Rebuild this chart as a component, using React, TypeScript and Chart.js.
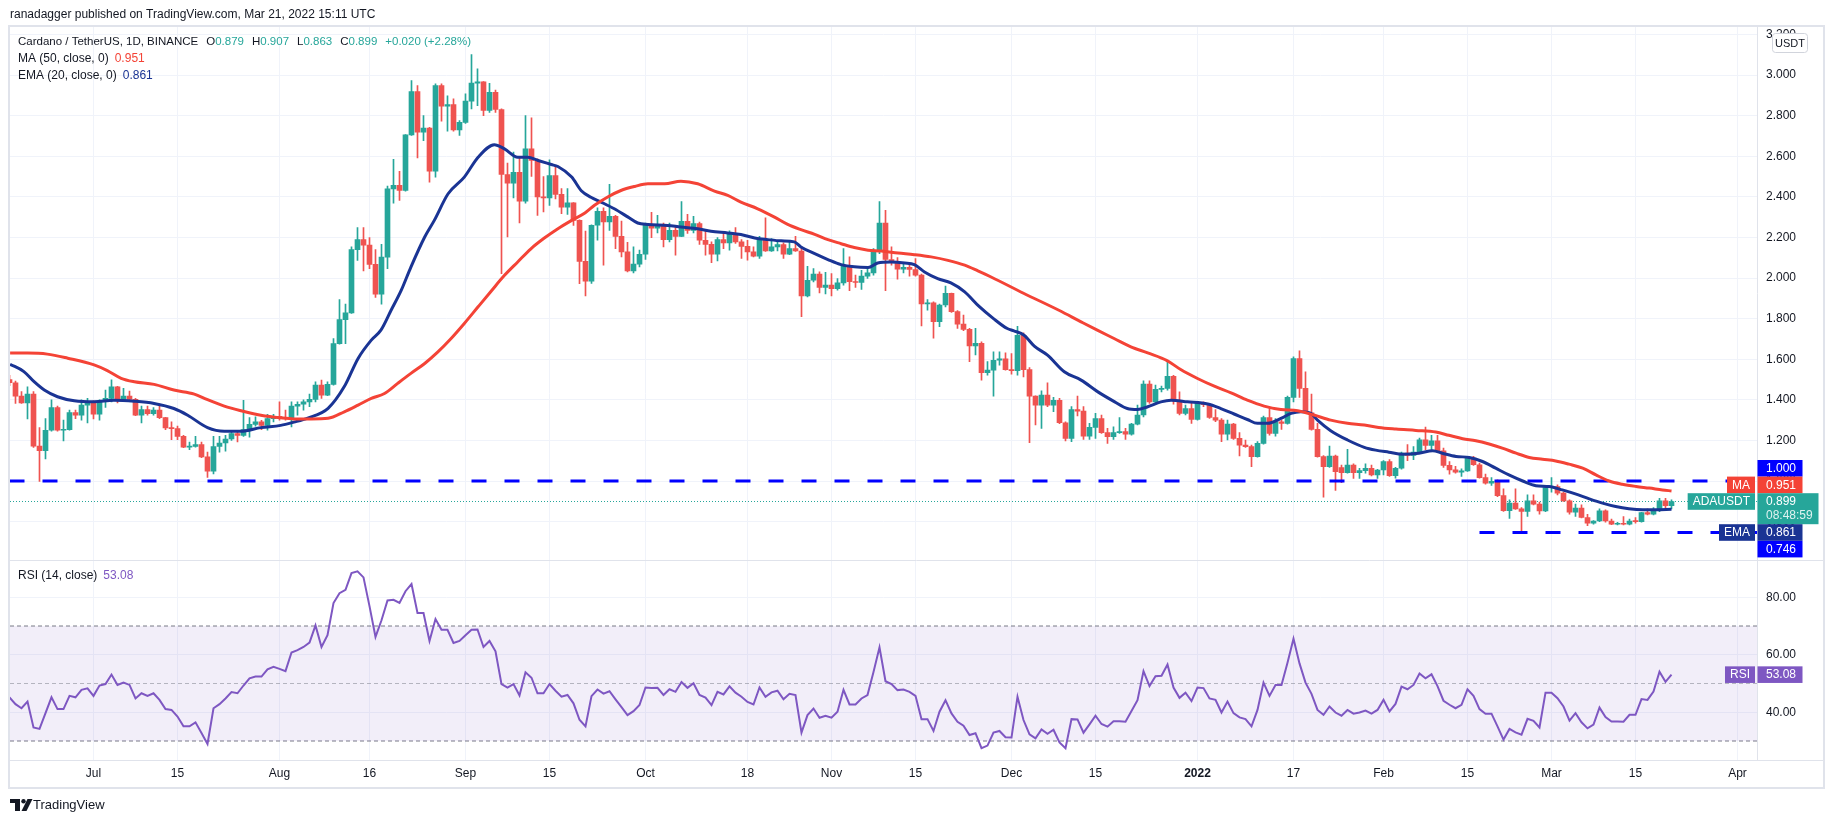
import React, { useEffect, useRef } from "react";
import { Chart, registerables } from "chart.js";

Chart.register(...registerables);

// ---------------- DATA ----------------
// Day index: 0 = 2021-07-01. First candle = 2021-06-17 (day -14), last = 2022-03-21 (day 263).
const FIRST_DAY = -14;

const opens = [
  1.500, 1.484, 1.418, 1.385, 1.428, 1.172, 1.150, 1.250, 1.362, 1.250,
  1.253, 1.337, 1.324, 1.374, 1.393, 1.329, 1.393, 1.407, 1.464, 1.398,
  1.418, 1.402, 1.324, 1.352, 1.332, 1.349, 1.312, 1.262, 1.258, 1.220,
  1.167, 1.170, 1.180, 1.119, 1.048, 1.170, 1.187, 1.207, 1.233, 1.225,
  1.253, 1.279, 1.291, 1.274, 1.307, 1.319, 1.312, 1.307, 1.369, 1.378,
  1.390, 1.402, 1.472, 1.423, 1.476, 1.677, 1.795, 1.828, 2.140, 2.189,
  2.162, 2.067, 1.920, 2.103, 2.439, 2.456, 2.431, 2.705, 2.918, 2.718,
  2.739, 2.526, 2.948, 2.846, 2.854, 2.730, 2.767, 2.871, 2.960, 2.966,
  2.825, 2.915, 2.830, 2.510, 2.467, 2.520, 2.379, 2.636, 2.579, 2.400,
  2.395, 2.505, 2.412, 2.349, 2.370, 2.284, 2.082, 1.985, 2.260, 2.328,
  2.276, 2.304, 2.205, 2.129, 2.035, 2.068, 2.117, 2.260, 2.245, 2.255,
  2.189, 2.235, 2.205, 2.279, 2.235, 2.268, 2.186, 2.166, 2.117, 2.189,
  2.173, 2.219, 2.178, 2.156, 2.129, 2.107, 2.189, 2.133, 2.153, 2.165,
  2.117, 2.145, 2.133, 1.912, 1.989, 2.019, 1.953, 1.965, 1.948, 1.976,
  2.063, 1.982, 1.978, 2.009, 2.025, 2.133, 2.271, 2.091, 2.079, 2.043,
  2.052, 2.042, 2.014, 1.872, 1.878, 1.785, 1.867, 1.924, 1.834, 1.773,
  1.747, 1.665, 1.678, 1.534, 1.546, 1.595, 1.602, 1.549, 1.544, 1.718,
  1.549, 1.418, 1.374, 1.423, 1.374, 1.398, 1.287, 1.210, 1.352, 1.344,
  1.221, 1.264, 1.308, 1.238, 1.218, 1.238, 1.243, 1.231, 1.280, 1.325,
  1.477, 1.390, 1.451, 1.456, 1.516, 1.398, 1.333, 1.357, 1.303, 1.385,
  1.376, 1.313, 1.300, 1.231, 1.280, 1.210, 1.177, 1.169, 1.120, 1.185,
  1.313, 1.235, 1.292, 1.284, 1.412, 1.603, 1.456, 1.336, 1.254, 1.120,
  1.071, 1.123, 1.066, 1.041, 1.079, 1.041, 1.051, 1.062, 1.030, 1.054,
  1.096, 1.026, 1.063, 1.137, 1.126, 1.142, 1.203, 1.175, 1.198, 1.149,
  1.077, 1.055, 1.044, 1.050, 1.113, 1.080, 1.017, 0.989, 0.998, 0.928,
  0.854, 0.891, 0.863, 0.850, 0.902, 0.886, 0.853, 0.968, 0.973, 0.940,
  0.902, 0.846, 0.866, 0.820, 0.792, 0.803, 0.853, 0.803, 0.787, 0.790,
  0.787, 0.803, 0.800, 0.844, 0.836, 0.858, 0.902, 0.879,
];

const highs = [
  1.520, 1.492, 1.441, 1.464, 1.440, 1.263, 1.307, 1.400, 1.369, 1.300,
  1.349, 1.349, 1.400, 1.407, 1.395, 1.400, 1.448, 1.498, 1.466, 1.456,
  1.443, 1.407, 1.369, 1.369, 1.362, 1.374, 1.314, 1.291, 1.270, 1.225,
  1.192, 1.220, 1.192, 1.142, 1.220, 1.220, 1.225, 1.250, 1.240, 1.398,
  1.312, 1.316, 1.299, 1.329, 1.329, 1.390, 1.349, 1.390, 1.390, 1.400,
  1.428, 1.489, 1.497, 1.489, 1.702, 1.894, 1.871, 2.153, 2.248, 2.248,
  2.199, 2.140, 2.166, 2.453, 2.584, 2.526, 2.707, 2.972, 2.948, 2.800,
  2.742, 2.956, 2.956, 2.898, 2.882, 2.775, 2.907, 3.100, 3.030, 2.968,
  2.959, 2.926, 2.833, 2.566, 2.620, 2.598, 2.800, 2.789, 2.587, 2.500,
  2.582, 2.549, 2.440, 2.440, 2.372, 2.286, 2.231, 2.262, 2.346, 2.346,
  2.461, 2.309, 2.281, 2.176, 2.153, 2.137, 2.271, 2.323, 2.309, 2.271,
  2.271, 2.255, 2.377, 2.314, 2.304, 2.276, 2.235, 2.178, 2.199, 2.227,
  2.232, 2.248, 2.189, 2.186, 2.153, 2.205, 2.297, 2.194, 2.186, 2.173,
  2.183, 2.205, 2.153, 2.058, 2.047, 2.030, 2.028, 2.022, 1.997, 2.145,
  2.104, 2.014, 2.038, 2.047, 2.145, 2.377, 2.333, 2.153, 2.101, 2.074,
  2.071, 2.096, 2.019, 1.894, 1.883, 1.872, 1.960, 1.926, 1.839, 1.817,
  1.752, 1.752, 1.685, 1.588, 1.636, 1.636, 1.631, 1.628, 1.762, 1.730,
  1.559, 1.420, 1.444, 1.484, 1.412, 1.407, 1.292, 1.366, 1.418, 1.366,
  1.284, 1.333, 1.325, 1.259, 1.267, 1.313, 1.259, 1.284, 1.374, 1.494,
  1.494, 1.472, 1.467, 1.595, 1.520, 1.439, 1.374, 1.385, 1.390, 1.390,
  1.382, 1.352, 1.308, 1.300, 1.284, 1.238, 1.202, 1.177, 1.194, 1.320,
  1.357, 1.308, 1.300, 1.418, 1.612, 1.641, 1.538, 1.428, 1.284, 1.125,
  1.172, 1.128, 1.079, 1.156, 1.084, 1.062, 1.084, 1.079, 1.057, 1.101,
  1.105, 1.067, 1.142, 1.179, 1.170, 1.212, 1.266, 1.225, 1.225, 1.162,
  1.096, 1.072, 1.060, 1.121, 1.121, 1.088, 1.034, 1.017, 1.006, 0.961,
  0.907, 0.961, 0.869, 0.932, 0.932, 0.896, 0.973, 1.017, 0.981, 0.945,
  0.907, 0.886, 0.882, 0.836, 0.805, 0.863, 0.858, 0.813, 0.797, 0.825,
  0.813, 0.820, 0.846, 0.863, 0.869, 0.915, 0.915, 0.907,
];

const lows = [
  1.470, 1.382, 1.382, 1.306, 1.165, 0.998, 1.109, 1.246, 1.246, 1.197,
  1.250, 1.307, 1.300, 1.286, 1.306, 1.300, 1.362, 1.390, 1.385, 1.395,
  1.398, 1.322, 1.286, 1.324, 1.324, 1.307, 1.253, 1.203, 1.203, 1.164,
  1.154, 1.167, 1.115, 1.018, 1.035, 1.142, 1.147, 1.200, 1.192, 1.220,
  1.216, 1.270, 1.253, 1.250, 1.291, 1.300, 1.300, 1.266, 1.324, 1.349,
  1.366, 1.390, 1.407, 1.420, 1.472, 1.674, 1.677, 1.825, 2.087, 2.035,
  2.046, 1.904, 1.871, 2.046, 2.369, 2.382, 2.428, 2.702, 2.592, 2.677,
  2.472, 2.497, 2.772, 2.723, 2.723, 2.702, 2.762, 2.833, 2.849, 2.800,
  2.816, 2.816, 2.021, 2.202, 2.395, 2.271, 2.369, 2.500, 2.308, 2.325,
  2.357, 2.390, 2.317, 2.313, 2.259, 1.972, 1.912, 1.973, 2.186, 2.063,
  2.235, 2.145, 2.104, 2.030, 2.025, 2.055, 2.091, 2.199, 2.222, 2.153,
  2.178, 2.112, 2.203, 2.219, 2.222, 2.166, 2.112, 2.075, 2.084, 2.145,
  2.137, 2.170, 2.096, 2.088, 2.104, 2.096, 2.131, 2.131, 2.133, 2.096,
  2.115, 2.131, 1.809, 1.907, 1.981, 1.927, 1.921, 1.912, 1.940, 1.965,
  1.937, 1.953, 1.944, 1.998, 2.014, 2.120, 1.937, 2.063, 1.994, 2.025,
  2.009, 2.009, 1.764, 1.842, 1.703, 1.760, 1.858, 1.830, 1.752, 1.741,
  1.588, 1.621, 1.497, 1.521, 1.418, 1.571, 1.546, 1.526, 1.521, 1.513,
  1.189, 1.276, 1.259, 1.366, 1.341, 1.283, 1.198, 1.194, 1.320, 1.205,
  1.205, 1.210, 1.235, 1.185, 1.205, 1.235, 1.205, 1.226, 1.276, 1.316,
  1.382, 1.385, 1.439, 1.448, 1.379, 1.325, 1.325, 1.284, 1.300, 1.366,
  1.308, 1.292, 1.194, 1.202, 1.205, 1.123, 1.166, 1.071, 1.117, 1.182,
  1.226, 1.221, 1.254, 1.280, 1.390, 1.412, 1.333, 1.251, 1.117, 0.920,
  1.067, 0.953, 0.992, 1.038, 1.013, 1.013, 1.038, 1.025, 1.013, 1.030,
  1.022, 1.014, 1.058, 1.100, 1.105, 1.138, 1.154, 1.154, 1.146, 1.067,
  1.034, 1.039, 1.022, 1.047, 1.077, 1.014, 0.984, 0.978, 0.923, 0.850,
  0.816, 0.860, 0.751, 0.825, 0.882, 0.836, 0.849, 0.945, 0.932, 0.899,
  0.836, 0.825, 0.818, 0.780, 0.787, 0.800, 0.797, 0.785, 0.784, 0.784,
  0.784, 0.792, 0.797, 0.833, 0.833, 0.849, 0.858, 0.863,
];

const closes = [
  1.484, 1.418, 1.385, 1.428, 1.172, 1.150, 1.250, 1.362, 1.250, 1.253,
  1.337, 1.324, 1.374, 1.393, 1.329, 1.393, 1.407, 1.464, 1.398, 1.418,
  1.402, 1.324, 1.352, 1.332, 1.349, 1.312, 1.262, 1.258, 1.220, 1.167,
  1.170, 1.180, 1.119, 1.048, 1.170, 1.187, 1.207, 1.233, 1.225, 1.253,
  1.279, 1.291, 1.274, 1.307, 1.319, 1.312, 1.307, 1.369, 1.378, 1.390,
  1.402, 1.472, 1.423, 1.476, 1.677, 1.795, 1.828, 2.140, 2.189, 2.162,
  2.067, 1.920, 2.103, 2.439, 2.456, 2.431, 2.705, 2.918, 2.718, 2.739,
  2.526, 2.948, 2.846, 2.854, 2.730, 2.767, 2.871, 2.960, 2.966, 2.825,
  2.915, 2.830, 2.510, 2.467, 2.520, 2.379, 2.636, 2.579, 2.400, 2.395,
  2.505, 2.412, 2.349, 2.370, 2.284, 2.082, 1.985, 2.260, 2.328, 2.276,
  2.304, 2.205, 2.129, 2.035, 2.068, 2.117, 2.260, 2.245, 2.255, 2.189,
  2.235, 2.205, 2.279, 2.235, 2.268, 2.186, 2.166, 2.117, 2.189, 2.173,
  2.219, 2.178, 2.156, 2.129, 2.107, 2.189, 2.133, 2.153, 2.165, 2.117,
  2.145, 2.133, 1.912, 1.989, 2.019, 1.953, 1.965, 1.948, 1.976, 2.063,
  1.982, 1.978, 2.009, 2.025, 2.133, 2.271, 2.091, 2.079, 2.043, 2.052,
  2.042, 2.014, 1.872, 1.878, 1.785, 1.867, 1.924, 1.834, 1.773, 1.747,
  1.665, 1.678, 1.534, 1.546, 1.595, 1.602, 1.549, 1.544, 1.718, 1.549,
  1.418, 1.374, 1.423, 1.374, 1.398, 1.287, 1.210, 1.352, 1.344, 1.221,
  1.264, 1.308, 1.238, 1.218, 1.238, 1.243, 1.231, 1.280, 1.325, 1.477,
  1.390, 1.451, 1.456, 1.516, 1.398, 1.333, 1.357, 1.303, 1.385, 1.376,
  1.313, 1.300, 1.231, 1.280, 1.210, 1.177, 1.169, 1.120, 1.185, 1.313,
  1.235, 1.292, 1.284, 1.412, 1.603, 1.456, 1.336, 1.254, 1.120, 1.071,
  1.123, 1.046, 1.041, 1.079, 1.041, 1.051, 1.062, 1.030, 1.054, 1.096,
  1.026, 1.063, 1.137, 1.126, 1.142, 1.203, 1.175, 1.198, 1.149, 1.077,
  1.055, 1.044, 1.050, 1.113, 1.080, 1.017, 0.989, 0.998, 0.928, 0.854,
  0.891, 0.863, 0.850, 0.902, 0.886, 0.853, 0.968, 0.973, 0.940, 0.902,
  0.846, 0.866, 0.820, 0.792, 0.803, 0.853, 0.803, 0.787, 0.790, 0.787,
  0.803, 0.800, 0.844, 0.836, 0.858, 0.902, 0.879, 0.899,
];

const rsiValues = [
  45.2, 42.8, 41.4, 43.7, 34.7, 34.2, 39.7, 45.2, 41.1, 41.1,
  45.7, 45.2, 47.8, 48.3, 45.7, 49.3, 49.8, 53.1, 49.5, 50.3,
  49.5, 44.8, 46.6, 45.7, 46.6, 44.3, 41.1, 40.8, 38.5, 35.1,
  35.1, 36.5, 32.8, 29.0, 41.4, 42.8, 44.8, 47.0, 46.6, 49.3,
  51.8, 52.4, 52.4, 54.9, 55.8, 55.1, 54.3, 60.8, 61.6, 62.7,
  64.2, 70.2, 62.7, 66.8, 78.0, 81.4, 82.6, 88.4, 89.0, 86.9,
  76.9, 66.2, 72.0, 78.9, 79.1, 78.0, 82.1, 84.6, 74.5, 74.5,
  64.8, 72.4, 68.7, 68.7, 64.1, 64.8, 66.8, 68.7, 68.8, 62.7,
  64.8, 61.2, 49.8, 48.6, 49.8, 45.8, 53.9, 52.0, 46.6, 46.6,
  49.8, 47.5, 45.4, 46.0, 43.1, 37.4, 35.1, 45.6, 47.9, 46.5,
  47.3, 44.5, 41.8, 39.0, 40.4, 42.5, 48.6, 48.4, 48.5, 46.0,
  48.0, 47.1, 50.5, 48.5, 50.1, 46.0, 45.1, 42.5, 47.1, 46.2,
  49.0, 46.8, 45.4, 43.6, 42.7, 48.6, 45.4, 46.9, 47.5, 44.5,
  46.4, 46.0, 32.9, 39.0, 41.3, 38.1, 38.8, 38.1, 40.2, 47.8,
  42.7, 42.7, 44.8, 46.0, 54.0, 62.6, 50.8, 49.8, 47.7, 47.9,
  47.1, 45.7, 37.6, 37.6, 33.5, 40.2, 44.2, 39.6, 36.7, 35.3,
  32.1, 32.7, 27.5, 28.4, 32.9, 33.5, 31.3, 31.2, 45.4, 37.3,
  32.3, 30.9, 34.0, 32.5, 33.9, 29.5, 27.5, 37.6, 37.5, 32.9,
  35.8, 38.8, 35.9, 35.0, 36.9, 36.9, 36.7, 40.4, 44.2, 54.3,
  49.1, 52.5, 52.7, 56.6, 48.6, 45.0, 46.8, 43.9, 48.6, 48.4,
  44.8, 44.3, 39.9, 43.7, 39.7, 38.2, 37.6, 35.1, 40.8, 50.3,
  45.7, 49.5, 49.5, 57.2, 65.6, 57.0, 50.3, 46.4, 40.8, 39.1,
  42.0, 39.9, 38.8, 40.8, 39.5, 39.9, 40.6, 39.5, 40.8, 44.3,
  40.3, 42.9, 48.9, 48.0, 49.5, 53.5, 51.8, 53.2, 49.1, 44.0,
  42.6, 41.4, 42.6, 48.0, 45.7, 41.1, 39.5, 39.5, 35.1, 30.5,
  34.2, 33.0, 32.2, 37.7, 37.0, 34.7, 46.8, 46.8, 44.9, 42.0,
  37.1, 39.7, 36.5, 34.4, 35.7, 41.6, 38.3, 36.8, 36.8, 36.7,
  39.1, 39.1, 44.6, 44.3, 47.2, 54.1, 50.6, 53.08,
];

// MA (50) readings: day index / value
const maDays = [
  -13.9, -11, -7.7, -4.3, 0.1, 2.3, 4.6, 6.8, 10.1, 13.4, 16.8, 18.9, 21.8, 24.6, 27.9, 31.2, 33.4, 36.3, 39.1,
  41.8, 44.1, 46.3, 48.5, 50.7, 52.9, 55.2, 57.4, 59.6, 61.8, 64.1, 66.3, 68.5, 70.7, 72.9, 75.2, 77.4, 79.7,
  81.9, 83.5, 85.7, 87.9, 90.2, 92.4, 95.2, 97.9, 100.7, 103.5, 105.7, 107.9, 110.7, 113.5, 115.7, 117.9, 120.2,
  122.4, 124.6, 126.8, 129.1, 131.3, 134.1, 136.8, 139.6, 142.4, 145.2, 147.4, 149.6, 155, 160.9, 164.6, 167.3,
  170.1, 172.9, 175.7, 179, 181.2, 184, 186.8, 189.6, 192.3, 195.1, 197.9, 200.7, 203.4, 206.2, 209, 211.8,
  214.2, 217.1, 220.4, 223.7, 225.9, 228.2, 230.4, 232.6, 234.8, 237.1, 239.3, 241.5, 243.7, 245.9, 248.2,
  250.4, 252.6, 254.8, 257.1, 259.3, 261.5, 263,
];
const maValues = [
  1.63, 1.63, 1.625, 1.605, 1.572, 1.544, 1.506, 1.489, 1.476, 1.448, 1.428, 1.402, 1.369, 1.346, 1.324, 1.311, 1.306, 1.306, 1.309,
  1.341, 1.374, 1.407, 1.431, 1.481, 1.53, 1.579, 1.636, 1.702, 1.776, 1.858, 1.936, 2.013, 2.079, 2.144, 2.198, 2.243, 2.284,
  2.32, 2.358, 2.399, 2.431, 2.451, 2.464, 2.464, 2.477, 2.464, 2.428, 2.407, 2.374, 2.341, 2.3, 2.264, 2.238, 2.215,
  2.189, 2.169, 2.15, 2.137, 2.133, 2.123, 2.115, 2.104, 2.087, 2.063, 2.035, 2.005, 1.925, 1.841, 1.784, 1.743,
  1.702, 1.661, 1.631, 1.592, 1.549, 1.505, 1.467, 1.434, 1.398, 1.369, 1.352, 1.346, 1.325, 1.3, 1.284, 1.276,
  1.264, 1.256, 1.249, 1.241, 1.225, 1.208, 1.198, 1.182, 1.162, 1.137, 1.116, 1.107, 1.099, 1.083, 1.063,
  1.03, 1.0, 0.984, 0.973, 0.965, 0.956, 0.951,
];

// EMA (20) readings: day index / value
const emaDays = [
  -13.9, -11.6, -9.9, -8.2, -6, -3.2, 0.1, 3.4, 6.8, 10.1, 13.4, 15.7, 19, 21.8, 24.6, 27.9, 31.2, 33.4, 35.7,
  39.1, 41.8, 44.1, 46.3, 47.9, 49.6, 51.3, 52.9, 55.2, 56.8, 59.1, 61.8, 64.1, 66.8, 68.5, 70.7, 72.4, 74.1,
  76.3, 77.4, 79.7, 81.3, 82.9, 84.6, 86.8, 89.1, 90.7, 92.4, 95.7, 97.9, 100.7, 102.9, 105.7, 107.9, 110.2,
  112.4, 114.6, 116.8, 117.9, 120.2, 122.4, 124.6, 126.8, 129.1, 130.7, 132.9, 135.2, 136.8, 138.5, 140.7,
  142.9, 145.2, 147.6, 150, 152.3, 153.4, 155.1, 156.8, 159, 161.8, 164.6, 167.4, 170.2, 172.3, 174, 175.7,
  177.9, 179.6, 182.3, 185.7, 187.9, 190.1, 192.3, 194, 195.7, 197.9, 199.6, 201.2, 202.9, 204, 206.2, 209,
  211.8, 213.7, 215.9, 218.2, 220.9, 223.2, 224.8, 227.1, 229.3, 231.5, 233.7, 235.9, 238.2, 240.4, 242.6,
  244.8, 247.1, 249.3, 251.5, 253.7, 255.9, 258.2, 260.4, 263,
];
const emaValues = [
  1.575, 1.539, 1.489, 1.448, 1.415, 1.395, 1.39, 1.398, 1.393, 1.382, 1.357, 1.324, 1.263, 1.245, 1.245, 1.263, 1.274, 1.29, 1.31,
  1.358, 1.465, 1.604, 1.694, 1.743, 1.841, 1.94, 2.054, 2.202, 2.284, 2.415, 2.497, 2.595, 2.657, 2.636, 2.595, 2.595, 2.579,
  2.559, 2.549, 2.497, 2.43, 2.398, 2.374, 2.341, 2.3, 2.271, 2.264, 2.259, 2.251, 2.243, 2.23, 2.222, 2.214, 2.197,
  2.189, 2.183, 2.178, 2.153, 2.12, 2.091, 2.066, 2.055, 2.052, 2.074, 2.079, 2.074, 2.066, 2.03, 1.997,
  1.976, 1.932, 1.86, 1.8, 1.751, 1.74, 1.718, 1.664, 1.62, 1.538, 1.497, 1.439, 1.39, 1.357, 1.352, 1.366,
  1.39, 1.398, 1.39, 1.379, 1.357, 1.33, 1.303, 1.284, 1.284, 1.308, 1.333, 1.341, 1.333, 1.3, 1.248, 1.202,
  1.166, 1.152, 1.142, 1.132, 1.137, 1.149, 1.137, 1.121, 1.116, 1.096, 1.063, 1.03, 1.0, 0.977, 0.973,
  0.956, 0.935, 0.912, 0.891, 0.874, 0.863, 0.858, 0.858, 0.861,
];

// Time-axis ticks (day index) and their labels
const tickDays = [0, 14, 31, 46, 62, 76, 92, 109, 123, 137, 153, 167, 184, 200, 215, 229, 243, 257, 274];
const tickLabels = ["Jul", "15", "Aug", "16", "Sep", "15", "Oct", "18", "Nov", "15", "Dec", "15", "2022", "17", "Feb", "15", "Mar", "15", "Apr"];

const priceTicks = [0.8, 1.0, 1.2, 1.4, 1.6, 1.8, 2.0, 2.2, 2.4, 2.6, 2.8, 3.0, 3.2];
const rsiTicks = [40, 60, 80];

// Horizontal drawn levels (value, start day)
const levelValues = [1.0, 0.746];
const levelStartDays = [-14, 231];

// RSI band lines: upper, lower, middle
const rsiBandLevels = [70, 30, 50];

const HEADER = "ranadagger published on TradingView.com, Mar 21, 2022 15:11 UTC";
const SYMBOL_TITLE = "Cardano / TetherUS, 1D, BINANCE";
const MA_TITLE = "MA (50, close, 0)";
const EMA_TITLE = "EMA (20, close, 0)";
const RSI_TITLE = "RSI (14, close)";
const COUNTDOWN = "08:48:59";

// ---------------- VIEW / STYLE ----------------
const VIEW_MIN = -83.5 / 6;
const VIEW_MAX = VIEW_MIN + 1747 / 6;
const PRICE_MIN = 3 - 484.5 / 203;
const PRICE_MAX = 3 + 48 / 203;
const RSI_MIN = 30 - 19 / 2.875;
const RSI_MAX = 70 + 66.5 / 2.875;

const UP = "#26a69a";
const DOWN = "#ef5350";
const MA_COLOR = "#f44336";
const EMA_COLOR = "#1a3494";
const LEVEL_COLOR = "#0000ff";
const RSI_COLOR = "#7e57c2";
const TEXT = "#131722";
const LINE = "#e0e3eb";
const GRID = "#f0f3fa";
const FONT = '"Liberation Sans", Arial, sans-serif';

const f3 = (v: number) => v.toFixed(3);

function fnt(size: number, weight = "normal") {
  return `${weight} ${size}px ${FONT}`;
}

const overlay = {
  id: "tvOverlay",
  afterDraw(chart: any) {
    const ctx: CanvasRenderingContext2D = chart.ctx;
    const xs = chart.scales.x;
    const ys = chart.scales.y;
    const rs = chart.scales.rsi;
    const ca = chart.chartArea;
    const left = ca.left;
    const right = ys.right;
    const top = ca.top;
    const bottom = xs.bottom;
    ctx.save();

    // frame and pane separators
    ctx.strokeStyle = LINE;
    ctx.lineWidth = 1;
    ctx.beginPath();
    ctx.moveTo(left, Math.round(rs.top) + 0.5);
    ctx.lineTo(right, Math.round(rs.top) + 0.5);
    ctx.moveTo(left, Math.round(xs.top) + 0.5);
    ctx.lineTo(right, Math.round(xs.top) + 0.5);
    ctx.stroke();
    ctx.lineWidth = 2;
    ctx.strokeRect(left - 1, top - 1, right - left + 2, bottom - top + 2);

    ctx.textBaseline = "middle";
    ctx.textAlign = "left";

    // header
    ctx.font = fnt(12);
    ctx.fillStyle = TEXT;
    ctx.fillText(HEADER, left, top - 12);

    const seg = (text: string, color: string, x: number, y: number) => {
      ctx.fillStyle = color;
      ctx.fillText(text, x, y);
      return x + ctx.measureText(text).width;
    };

    // main legend
    const n = closes.length;
    const lastO = opens[n - 1], lastH = highs[n - 1], lastL = lows[n - 1], lastC = closes[n - 1];
    const prevC = closes[n - 2];
    const chg = lastC - prevC;
    const valColor = lastC >= lastO ? UP : DOWN;
    ctx.font = fnt(11.5);
    let x = left + 8;
    let y = top + 15;
    x = seg(SYMBOL_TITLE, TEXT, x, y) + 8;
    const ohlc: [string, number][] = [["O", lastO], ["H", lastH], ["L", lastL], ["C", lastC]];
    for (const [k, v] of ohlc) {
      x = seg(k, TEXT, x, y);
      x = seg(f3(v), valColor, x, y) + 8;
    }
    seg(`${chg >= 0 ? "+" : ""}${f3(chg)} (${chg >= 0 ? "+" : ""}${((chg / prevC) * 100).toFixed(2)}%)`, valColor, x, y);

    ctx.font = fnt(12);
    y = top + 32;
    x = seg(MA_TITLE, TEXT, left + 8, y) + 6;
    seg(f3(maValues[maValues.length - 1]), MA_COLOR, x, y);
    y = top + 49;
    x = seg(EMA_TITLE, TEXT, left + 8, y) + 6;
    seg(f3(emaValues[emaValues.length - 1]), EMA_COLOR, x, y);

    // RSI legend
    y = rs.top + 16;
    x = seg(RSI_TITLE, TEXT, left + 8, y) + 6;
    const rsiLast = rsiValues[rsiValues.length - 1];
    seg(rsiLast.toFixed(2), RSI_COLOR, x, y);

    // price-axis labels with collision handling
    const H1 = 16.6;
    const H2 = 31;
    const axisL = ys.left;
    type Lab = { v: number; text: string; bg: string; tag?: string; sub?: string; c?: number };
    const labs: Lab[] = [
      { v: levelValues[0], text: f3(levelValues[0]), bg: LEVEL_COLOR },
      { v: maValues[maValues.length - 1], text: f3(maValues[maValues.length - 1]), bg: MA_COLOR, tag: "MA" },
      { v: lastC, text: f3(lastC), bg: UP, tag: "ADAUSDT", sub: COUNTDOWN },
      { v: emaValues[emaValues.length - 1], text: f3(emaValues[emaValues.length - 1]), bg: EMA_COLOR, tag: "EMA" },
      { v: levelValues[1], text: f3(levelValues[1]), bg: LEVEL_COLOR },
    ];
    const anchor = 2;
    const ay = ys.getPixelForValue(labs[anchor].v);
    labs[anchor].c = ay;
    let prevTop = ay - H1 / 2;
    for (let i = anchor - 1; i >= 0; i--) {
      const c = Math.min(ys.getPixelForValue(labs[i].v), prevTop - H1 / 2);
      labs[i].c = c;
      prevTop = c - H1 / 2;
    }
    let prevBottom = ay - H1 / 2 + H2;
    for (let i = anchor + 1; i < labs.length; i++) {
      const c = Math.max(ys.getPixelForValue(labs[i].v), prevBottom + H1 / 2);
      labs[i].c = c;
      prevBottom = c + H1 / 2;
    }
    ctx.font = fnt(12);
    const drawLab = (lab: Lab) => {
      const c = lab.c as number;
      const t = c - H1 / 2;
      const h = lab.sub ? H2 : H1;
      const w = lab.sub ? 61 : 45;
      ctx.fillStyle = lab.bg;
      ctx.fillRect(axisL + 0.5, t, w, h);
      ctx.fillStyle = "#ffffff";
      ctx.textAlign = "left";
      ctx.fillText(lab.text, axisL + 9, c + 0.5);
      if (lab.sub) {
        ctx.fillStyle = "rgba(255,255,255,0.85)";
        ctx.fillText(lab.sub, axisL + 9, c + 14.5);
      }
      if (lab.tag) {
        const tw = ctx.measureText(lab.tag).width + 10;
        ctx.fillStyle = lab.bg;
        ctx.fillRect(axisL - 2 - tw, t, tw, H1);
        ctx.fillStyle = "#ffffff";
        ctx.textAlign = "center";
        ctx.fillText(lab.tag, axisL - 2 - tw / 2, c + 0.5);
        ctx.textAlign = "left";
      }
    };
    labs.forEach(drawLab);

    // RSI axis label
    drawLab({ v: rsiLast, text: rsiLast.toFixed(2), bg: RSI_COLOR, tag: "RSI", c: rs.getPixelForValue(rsiLast) });

    // USDT box
    const bx = axisL + 15, by = top + 6, bw = 35, bh = 19;
    ctx.fillStyle = "#ffffff";
    ctx.strokeStyle = "#d1d4dc";
    ctx.lineWidth = 1;
    ctx.beginPath();
    (ctx as any).roundRect ? (ctx as any).roundRect(bx + 0.5, by + 0.5, bw, bh, 3) : ctx.rect(bx + 0.5, by + 0.5, bw, bh);
    ctx.fill();
    ctx.stroke();
    ctx.fillStyle = TEXT;
    ctx.font = fnt(11);
    ctx.textAlign = "center";
    ctx.fillText("USDT", bx + bw / 2 + 0.5, by + bh / 2 + 1);

    // footer logo
    const ly = bottom + 18;
    ctx.fillStyle = TEXT;
    ctx.fillRect(left, ly - 6, 10, 4);
    ctx.fillRect(left + 5, ly - 6, 5, 12);
    ctx.beginPath();
    ctx.arc(left + 13.5, ly - 3.8, 2.2, 0, Math.PI * 2);
    ctx.fill();
    ctx.beginPath();
    ctx.moveTo(left + 17.5, ly - 6);
    ctx.lineTo(left + 22.5, ly - 6);
    ctx.lineTo(left + 16.5, ly + 6);
    ctx.lineTo(left + 11.5, ly + 6);
    ctx.closePath();
    ctx.fill();
    ctx.font = fnt(13);
    ctx.textAlign = "left";
    ctx.fillText("TradingView", left + 23, ly);

    ctx.restore();
  },
};

export default function App() {
  const ref = useRef<HTMLCanvasElement | null>(null);

  useEffect(() => {
    document.body.style.margin = "0";
    const canvas = ref.current;
    if (!canvas) return;
    const days = closes.map((_, i) => FIRST_DAY + i);
    const colors = closes.map((c, i) => (c >= opens[i] ? UP : DOWN));
    const lastC = closes[closes.length - 1];

    const hline = (y: number, x0: number) => [
      { x: x0, y },
      { x: VIEW_MAX, y },
    ];

    const datasets: any[] = [
      // MA / EMA (drawn on top)
      {
        type: "line",
        data: maDays.map((d, i) => ({ x: d, y: maValues[i] })),
        borderColor: MA_COLOR,
        borderWidth: 3,
        pointRadius: 0,
        cubicInterpolationMode: "monotone",
        yAxisID: "y",
        order: 0,
      },
      {
        type: "line",
        data: emaDays.map((d, i) => ({ x: d, y: emaValues[i] })),
        borderColor: EMA_COLOR,
        borderWidth: 3,
        pointRadius: 0,
        cubicInterpolationMode: "monotone",
        yAxisID: "y",
        order: 0,
      },
      // drawn horizontal levels
      ...levelValues.map((v, i) => ({
        type: "line",
        data: hline(v, levelStartDays[i]),
        borderColor: LEVEL_COLOR,
        borderWidth: 3,
        borderDash: [15, 18],
        pointRadius: 0,
        yAxisID: "y",
        order: 1,
      })),
      // candle bodies
      {
        type: "bar",
        data: days.map((d, i) => ({ x: d, y: [opens[i], closes[i]] })),
        backgroundColor: colors,
        barThickness: 5,
        minBarLength: 1,
        grouped: false,
        borderWidth: 0,
        yAxisID: "y",
        order: 2,
      },
      // candle wicks
      {
        type: "bar",
        data: days.map((d, i) => ({ x: d, y: [lows[i], highs[i]] })),
        backgroundColor: colors,
        barThickness: 1,
        grouped: false,
        borderWidth: 0,
        yAxisID: "y",
        order: 3,
      },
      // last price dotted line
      {
        type: "line",
        data: hline(lastC, VIEW_MIN),
        borderColor: UP,
        borderWidth: 1,
        borderDash: [1, 2],
        pointRadius: 0,
        yAxisID: "y",
        order: 5,
      },
      // RSI band (upper fills to lower)
      {
        type: "line",
        data: hline(rsiBandLevels[0], VIEW_MIN),
        borderColor: "#787b86",
        borderWidth: 1,
        borderDash: [4, 3],
        pointRadius: 0,
        fill: "+1",
        backgroundColor: "rgba(126,87,194,0.1)",
        yAxisID: "rsi",
        order: 8,
      },
      {
        type: "line",
        data: hline(rsiBandLevels[1], VIEW_MIN),
        borderColor: "#787b86",
        borderWidth: 1,
        borderDash: [4, 3],
        pointRadius: 0,
        fill: false,
        yAxisID: "rsi",
        order: 8,
      },
      {
        type: "line",
        data: hline(rsiBandLevels[2], VIEW_MIN),
        borderColor: "rgba(120,123,134,0.5)",
        borderWidth: 1,
        borderDash: [4, 3],
        pointRadius: 0,
        fill: false,
        yAxisID: "rsi",
        order: 7,
      },
      {
        type: "line",
        data: days.map((d, i) => ({ x: d, y: rsiValues[i] })),
        borderColor: RSI_COLOR,
        borderWidth: 2,
        pointRadius: 0,
        tension: 0,
        yAxisID: "rsi",
        order: 6,
      },
    ];

    const tickFont = { family: FONT, size: 12 };

    const chart = new Chart(canvas, {
      type: "bar",
      data: { datasets },
      options: {
        responsive: false,
        animation: false,
        events: [],
        layout: { padding: { left: 10, top: 27, right: 11, bottom: 36 } },
        plugins: { legend: { display: false }, tooltip: { enabled: false } },
        scales: {
          x: {
            type: "linear",
            position: "bottom",
            min: VIEW_MIN,
            max: VIEW_MAX,
            offset: false,
            afterFit: (s: any) => {
              s.height = 27;
            },
            afterBuildTicks: (s: any) => {
              s.ticks = tickDays.map((v) => ({ value: v }));
            },
            ticks: {
              autoSkip: false,
              maxRotation: 0,
              padding: 6,
              color: TEXT,
              font: (c: any) => ({ ...tickFont, weight: tickLabels[c.index] === "2022" ? "bold" : "normal" }),
              callback: (_v: any, i: number) => tickLabels[i],
            },
            grid: { color: GRID, drawTicks: false, offset: false },
            border: { color: LINE },
          },
          y: {
            type: "linear",
            position: "right",
            stack: "panes",
            stackWeight: 532.5,
            min: PRICE_MIN,
            max: PRICE_MAX,
            afterFit: (s: any) => {
              s.width = 66;
            },
            afterBuildTicks: (s: any) => {
              s.ticks = priceTicks.map((v) => ({ value: v }));
            },
            ticks: {
              autoSkip: false,
              padding: 9,
              color: TEXT,
              font: tickFont,
              callback: (v: any) => Number(v).toFixed(3),
            },
            grid: { color: GRID, drawTicks: false },
            border: { color: LINE },
          },
          rsi: {
            type: "linear",
            position: "right",
            stack: "panes",
            stackWeight: 200.5,
            min: RSI_MIN,
            max: RSI_MAX,
            afterFit: (s: any) => {
              s.width = 66;
            },
            afterBuildTicks: (s: any) => {
              s.ticks = rsiTicks.map((v) => ({ value: v }));
            },
            ticks: {
              autoSkip: false,
              padding: 9,
              color: TEXT,
              font: tickFont,
              callback: (v: any) => Number(v).toFixed(2),
            },
            grid: { color: GRID, drawTicks: false },
            border: { color: LINE },
          },
        },
      } as any,
      plugins: [overlay],
    });

    return () => chart.destroy();
  }, []);

  return (
    <div style={{ position: "fixed", left: 0, top: 0, width: 1834, height: 823, background: "#ffffff" }}>
      <canvas ref={ref} width={1834} height={823} style={{ display: "block" }} />
    </div>
  );
}
